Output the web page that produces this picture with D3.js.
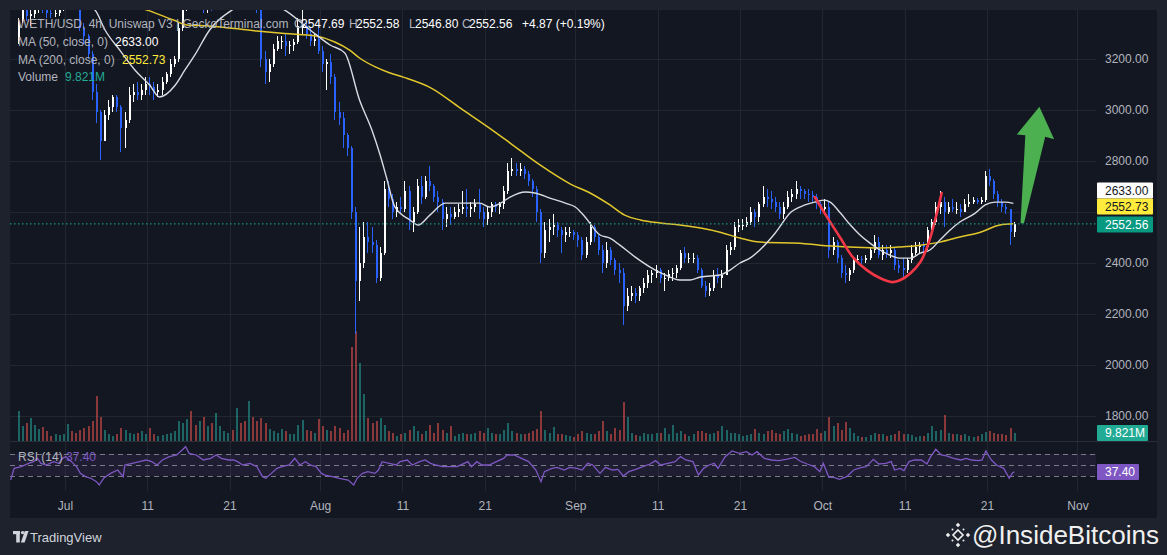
<!DOCTYPE html>
<html><head><meta charset="utf-8">
<script src="https://cdn.jsdelivr.net/npm/d3@7/dist/d3.min.js"></script>
<style>
html,body{margin:0;padding:0;background:#1e222d;overflow:hidden}
svg{display:block}
text{font-family:"Liberation Sans",Arial,sans-serif}
</style></head><body>
<svg id="chart" width="1167" height="555"></svg>
<script>
// ---------------- DATA (12h candles, WETH/USD) ----------------
const firstCandleTime = "06-25 00";
const candleHours = 12;
const firstOpen = 3270;
const highs = [
 3360,3420, 3410,3400, 3420,3480, 3460,3420, 3400,3405, 3420,3480,
 3520,3470, 3460,3430, 3340,3300, 3230,3100, 3000,3000, 3040,3060, 3060,3020, 2990,3090, 3100,3110, 3100,3130,
 3130,3110, 3100,3130, 3150,3200, 3210,3340, 3430,3500, 3510,3490, 3480,3460, 3440,3450, 3440,3540, 3530,3530,
 3530,3540, 3560,3500, 3530,3500, 3490,3400, 3230,3200, 3260,3290, 3290,3300, 3270,3280, 3360,3400, 3340,3320, 3300,3350,
 3250,3200, 3220,3140, 3030,2990, 2910,2860, 2620,2540, 2560,2560, 2540,2490, 2460,2720, 2720,2670, 2640,2660,
 2720,2700, 2620,2730, 2740,2740, 2780,2710, 2680,2650, 2620,2620, 2620,2630, 2680,2690, 2640,2650, 2690,2620,
 2620,2640, 2640,2640, 2700,2790, 2810,2790, 2790,2780, 2760,2730, 2700,2610, 2560,2570, 2590,2560, 2540,2540, 2540,2530,
 2520,2500, 2500,2560, 2550,2510, 2470,2480, 2460,2420, 2400,2380, 2300,2310, 2300,2310, 2340,2370, 2370,2390,
 2380,2360, 2370,2380, 2390,2450, 2460,2440, 2440,2430, 2380,2330, 2320,2370, 2380,2370, 2470,2480, 2560,2570,
 2570,2580, 2620,2610, 2640,2700, 2690,2680, 2660,2640, 2640,2680, 2690,2720, 2700,2690, 2690,2680, 2670,2640,
 2650,2640, 2500,2490, 2430,2390, 2380,2420, 2430,2425, 2430,2460, 2510,2500, 2470,2470, 2470,2460, 2410,2420,
 2420,2470, 2480,2480, 2480,2540, 2570,2640, 2680,2660, 2640,2650, 2640,2630, 2650,2670, 2660,2655, 2660,2760,
 2770,2730, 2680,2650, 2630,2610, 2560
];
const lows = [
 3260,3340, 3350,3330, 3360,3380, 3380,3360, 3360,3365, 3370,3390,
 3420,3410, 3400,3310, 3260,3200, 3040,2950, 2803,2880, 2960,2990, 2990,2835, 2850,2950, 3030,3040, 3040,3060,
 3060,3040, 3050,3060, 3100,3130, 3170,3190, 3310,3390, 3440,3410, 3420,3380, 3380,3390, 3400,3410, 3490,3490,
 3440,3460, 3460,3420, 3430,3400, 3380,3170, 3100,3110, 3170,3230, 3240,3210, 3220,3230, 3260,3300, 3280,3250, 3250,3220,
 3150,3080, 3100,2960, 2940,2850, 2820,2570, 2120,2250, 2380,2440, 2440,2320, 2330,2430, 2620,2570, 2580,2590,
 2600,2530, 2520,2590, 2630,2650, 2680,2640, 2600,2530, 2540,2550, 2570,2580, 2590,2580, 2580,2600, 2570,2540,
 2550,2580, 2600,2590, 2610,2670, 2740,2740, 2740,2730, 2700,2660, 2560,2400, 2420,2480, 2510,2500, 2440,2480, 2500,2490,
 2460,2410, 2420,2470, 2480,2430, 2360,2380, 2390,2350, 2320,2155, 2210,2250, 2240,2250, 2280,2300, 2320,2340,
 2320,2290, 2330,2330, 2340,2370, 2400,2400, 2400,2360, 2300,2265, 2270,2290, 2320,2300, 2350,2430, 2450,2520,
 2530,2540, 2550,2540, 2560,2620, 2620,2610, 2600,2570, 2570,2610, 2640,2650, 2650,2650, 2640,2640, 2610,2590,
 2590,2420, 2430,2400, 2340,2320, 2330,2360, 2400,2395, 2400,2410, 2440,2420, 2410,2420, 2420,2370, 2360,2340,
 2360,2400, 2430,2440, 2440,2450, 2510,2550, 2590,2540, 2590,2600, 2590,2580, 2600,2620, 2630,2630, 2630,2640,
 2700,2650, 2620,2600, 2590,2470, 2500
];
const closes = [
 3350,3400, 3370,3375, 3400,3450, 3400,3380, 3375,3380, 3400,3440,
 3460,3430, 3420,3320, 3290,3220, 3070,2990, 2880,2980, 3010,3050, 3010,2930, 2960,3060, 3070,3060, 3080,3100,
 3090,3070, 3080,3110, 3140,3180, 3200,3320, 3410,3480, 3460,3440, 3450,3400, 3420,3410, 3420,3510, 3510,3520,
 3480,3530, 3480,3440, 3480,3470, 3400,3200, 3150,3180, 3240,3270, 3270,3250, 3255,3265, 3330,3330, 3300,3270, 3280,3230,
 3180,3190, 3130,2990, 2970,2900, 2850,2600, 2330,2400, 2500,2480, 2470,2340, 2440,2690, 2650,2600, 2620,2610,
 2680,2560, 2600,2700, 2660,2720, 2700,2660, 2640,2570, 2590,2580, 2600,2610, 2620,2610, 2620,2630, 2600,2570,
 2600,2630, 2620,2630, 2680,2760, 2770,2760, 2770,2750, 2720,2690, 2600,2440, 2530,2540, 2550,2530, 2510,2520, 2520,2510,
 2490,2430, 2480,2540, 2500,2450, 2400,2450, 2410,2370, 2360,2230, 2270,2280, 2270,2300, 2320,2350, 2360,2370,
 2340,2340, 2355,2360, 2380,2440, 2420,2420, 2420,2370, 2310,2290, 2300,2350, 2340,2350, 2450,2460, 2540,2550,
 2550,2560, 2600,2580, 2630,2660, 2650,2640, 2620,2590, 2620,2660, 2670,2690, 2680,2670, 2665,2660, 2630,2610,
 2620,2450, 2480,2420, 2360,2350, 2370,2410, 2415,2410, 2420,2450, 2480,2430, 2450,2440, 2450,2390, 2380,2370,
 2410,2440, 2460,2470, 2460,2530, 2560,2620, 2640,2600, 2620,2610, 2610,2600, 2630,2640, 2645,2640, 2645,2740,
 2720,2670, 2640,2620, 2610,2520, 2552.56
];
const volumes = [ // millions
 37,18, 22,28, 20,15, 17,12, 6,8, 7,9,
 21,12, 10,14, 16,18, 25,55, 30,13, 8,6, 9,16, 14,10, 8,10, 12,9,
 16,8, 6,7, 8,10, 12,24, 22,27, 37,20, 24,30, 18,22, 34,18, 12,10,
 14,41, 22,25, 49,30, 25,28, 22,15, 12,10, 15,12, 9,8, 20,26, 14,12, 10,27,
 18,14, 12,18, 16,10, 14,115, 135,96, 58,28, 22,25, 28,20, 12,10, 6,8,
 10,14, 18,12, 9,12, 20,10, 22,14, 10,18, 6,8, 10,9, 8,10, 12,10,
 16,10, 8,9, 14,22, 12,10, 8,9, 10,12, 15,37, 14,10, 17,9, 8,7, 6,5,
 8,12, 10,9, 8,12, 25,12, 9,16, 14,48, 30,10, 7,6, 10,9, 8,10,
 10,16, 8,20, 10,12, 8,6, 9,12, 12,10, 8,10, 12,18, 14,10, 10,8,
 6,7, 8,15, 10,9, 12,14, 10,9, 12,15, 10,9, 6,7, 8,9, 15,10,
 12,30, 18,22, 14,23, 16,10, 6,5, 5,7, 10,9, 8,6, 7,9, 12,9,
 8,7, 5,6, 6,10, 18,12, 14,32, 10,8, 9,7, 8,6, 5,6, 8,11,
 12,10, 8,9, 7,16, 9.821
];
const ma50 = [
 ["06-25 00",3440],["06-28 00",3435],["07-01 00",3425],["07-03 00",3420],["07-04 16",3392],["07-05 21",3314],
 ["07-07 16",3235],["07-09 12",3157],["07-11 07",3098],["07-12 12",3051],["07-14 10",3098],["07-15 14",3157],
 ["07-16 19",3216],["07-18 14",3314],["07-21 07",3392],["07-24 17",3430],["07-27 17",3392],["07-30 19",3314],
 ["08-02 05",3255],["08-04 00",3224],["08-05 19",3039],["08-07 07",2921],["08-08 07",2823],["08-09 02",2733],
 ["08-10 02",2619],["08-11 22",2568],["08-12 22",2548],["08-14 08",2587],["08-16 05",2634],["08-18 00",2634],
 ["08-20 10",2634],["08-21 14",2619],["08-22 22",2634],["08-24 02",2658],["08-25 22",2678],["08-27 02",2674],
 ["08-28 22",2654],["08-30 19",2634],["09-01 00",2619],["09-02 05",2579],["09-04 00",2509],["09-05 05",2497],
 ["09-06 10",2469],["09-08 07",2422],["09-10 02",2383],["09-11 22",2352],["09-13 17",2332],["09-14 22",2332],
 ["09-16 05",2344],["09-18 14",2352],["09-19 19",2371],["09-21 00",2399],["09-22 05",2418],["09-23 10",2450],
 ["09-25 07",2517],["09-27 05",2599],["09-28 22",2627],["09-30 02",2638],["10-01 07",2646],["10-01 23",2638],
 ["10-03 05",2595],["10-04 10",2548],["10-05 14",2509],["10-06 19",2477],["10-08 00",2450],["10-09 05",2430],
 ["10-10 12",2418],["10-11 17",2418],["10-12 22",2438],["10-14 02",2450],["10-15 07",2489],["10-16 12",2528],
 ["10-17 17",2560],["10-19 14",2595],["10-20 19",2627],["10-22 00",2638],["10-23 05",2638],["10-24 05",2633.00]
];
const ma200 = [
 ["06-25 00",3560],["07-01 00",3500],["07-06 00",3440],["07-11 00",3392],["07-14 05",3353],["07-15 19",3334],
 ["07-18 12",3330],["07-24 07",3310],["07-27 17",3300],["07-31 12",3290],["08-02 19",3267],["08-04 14",3235],
 ["08-05 19",3204],["08-07 17",3169],["08-09 12",3145],["08-11 02",3129],["08-14 12",3086],["08-18 00",3008],
 ["08-21 22",2921],["08-24 02",2870],["08-27 17",2784],["08-31 10",2709],["09-02 19",2674],["09-05 05",2627],
 ["09-07 00",2587],["09-08 22",2568],["09-11 07",2556],["09-13 17",2548],["09-16 05",2536],["09-18 14",2520],
 ["09-21 00",2497],["09-23 10",2481],["09-28 07",2477],["09-30 17",2469],["10-04 10",2462],["10-08 00",2458],
 ["10-10 12",2462],["10-12 22",2469],["10-15 07",2481],["10-17 17",2501],["10-20 05",2520],["10-22 14",2548],
 ["10-24 05",2552.73]
];
const rsiPoints = [
 ["06-24 10",22.7],["06-24 20",43.9],["06-25 17",47],["06-26 14",53],["06-27 05",56.1],["06-27 16",62.1],["06-28 02",53],["06-28 18",50],["06-29 15",56.1],["06-30 06",53],["06-30 17",62.1],
 ["07-01 03",65.2],["07-01 19",56.1],["07-02 10",47],["07-02 21",34.8],["07-03 12",28.8],["07-04 04",25.8],["07-04 20",19.7],["07-05 04",13.6],["07-05 17",25.8],["07-06 13",34.8],["07-07 10",40.9],["07-08 02",28.8],["07-08 07",50],["07-09 04",53],["07-10 01",56.1],["07-10 21",59.1],["07-11 13",56.1],["07-12 05",50],["07-12 20",59.1],["07-13 17",65.2],["07-14 14",68.2],["07-15 06",77.3],["07-15 16",83.3],["07-16 02",71.2],["07-16 23",68.2],["07-17 20",59.1],["07-18 17",62.1],["07-19 09",68.2],["07-20 00",62.1],["07-20 21",59.1],["07-21 12",59.1],["07-21 23",56.1],["07-22 15",50],["07-23 12",53],["07-24 08",47],["07-25 00",28.8],["07-25 10",25.8],["07-26 02",34.8],["07-26 18",43.9],["07-27 09",47],["07-28 06",50],["07-28 22",62.1],["07-29 13",50],["07-30 05",56.1],["07-30 20",50],["07-31 12",47],
 ["08-01 04",34.8],["08-01 14",31.8],["08-02 11",28.8],["08-03 08",25.8],["08-04 10",22.7],["08-05 02",13.6],["08-05 12",25.8],["08-06 04",34.8],["08-06 19",37.9],["08-07 16",34.8],["08-08 02",40.9],["08-08 13",56.1],["08-09 10",53],["08-10 06",50],["08-10 17",56.1],["08-11 14",59.1],["08-12 05",50],["08-13 02",56.1],["08-13 18",59.1],["08-14 10",53],["08-15 01",50],["08-15 22",47],["08-16 19",47],["08-17 15",47],["08-18 12",53],["08-18 23",56.1],["08-19 09",47],["08-20 01",56.1],["08-20 16",50],["08-21 13",50],["08-22 10",56.1],["08-23 07",62.1],["08-23 17",68.2],["08-24 14",68.2],["08-25 11",62.1],["08-26 08",56.1],["08-27 05",40.9],["08-27 20",19.7],["08-28 06",37.9],["08-29 04",43.9],["08-29 19",45.8],["08-30 16",40.9],["08-31 07",45.8],
 ["09-01 05",43.9],["09-01 20",40.9],["09-02 12",53],["09-03 03",50],["09-04 00",34.8],["09-04 16",45.8],["09-05 12",40.9],["09-06 04",42.1],["09-06 20",30],["09-07 12",37.9],["09-08 08",42.1],["09-09 05",47],["09-10 02",51.8],["09-10 18",57.9],["09-11 09",50],["09-12 06",53],["09-13 03",56.1],["09-13 19",65.2],["09-14 10",59.1],["09-15 07",56.1],["09-15 23",31.8],["09-16 14",43.9],["09-17 06",50],["09-17 21",53],["09-18 08",43.9],["09-19 05",65.2],["09-20 01",75.5],["09-20 22",71.2],["09-21 19",74.2],["09-22 11",68.2],["09-23 02",74.2],["09-23 23",62.1],["09-24 20",59.1],["09-25 17",57.9],["09-26 14",60.3],["09-27 16",63.9],["09-28 07",57.3],["09-29 04",51.8],["09-30 01",47],["09-30 17",37.9],
 ["10-01 03",53],["10-01 19",27.6],["10-02 10",27.6],["10-03 02",23.9],["10-03 23",28.8],["10-04 20",40.9],["10-05 16",45.2],["10-06 08",47],["10-07 05",60.3],["10-07 21",51.8],["10-08 17",53],["10-09 09",56.1],["10-09 19",40.9],["10-10 11",43.9],["10-10 22",39.7],["10-11 13",56.1],["10-12 05",59.1],["10-13 01",59.1],["10-13 17",51.8],["10-14 04",65.2],["10-14 19",78.5],["10-15 11",68.2],["10-16 02",66.4],["10-16 23",62.1],["10-17 20",59.1],["10-18 12",62.1],["10-19 03",59.1],["10-20 00",57.9],["10-20 10",59.1],["10-20 21",75.5],["10-21 13",59.1],["10-22 04",50],["10-23 01",43.9],["10-23 17",25.8],["10-24 03",36.1],["10-24 08",37.4]
];
const redCurve = [
 ["09-30 02",2658],["10-01 14",2579],["10-03 05",2497],["10-04 17",2422],["10-06 10",2371],["10-08 00",2340],
 ["10-09 12",2324],["10-10 12",2332],["10-11 17",2359],["10-12 22",2403],["10-13 17",2458],["10-14 07",2517],
 ["10-14 22",2595],["10-15 12",2674]
];
const greenArrow = [
 ["10-25 02",2555],["10-25 16",2901],["10-24 15",2904],["10-27 09",3013],["10-29 04",2885],["10-28 02",2895],["10-25 12",2555]
];
const priceGridTicks = [1800,2000,2200,2400,2600,2800,3000,3200];
const priceLabelTicks = [1800,2000,2200,2400,2800,3000,3200]; // 2600 is hidden behind the price labels
const timeTicks = ["07-01","07-11","07-21","08-01","08-11","08-21","09-01","09-11","09-21","10-01","10-11","10-21","11-01"];
const timeTickLabels = ["Jul","11","21","Aug","11","21","Sep","11","21","Oct","11","21","Nov"];
const rsiLevels = [70,50,30];
const lastBar = [2547.69, 2552.58, 2546.80, 2552.56]; // O H L C
const lastChange = ["+4.87", "(+0.19%)"];
const ma50Last = 2633.00, ma200Last = 2552.73, volLast = "9.821M", rsiLast = 37.40;

// ---------------- LAYOUT ----------------
const L=10, R=1096, TOP=10, MAINB=441, RSIB=491, AXB=518, FR=1157;
const parse = d3.utcParse("%Y-%m-%d %H");
const T = s => parse("2024-" + s);
const HOUR = 3600e3;
const t0 = T(firstCandleTime);
const candles = closes.map((c,i)=>({
  t: new Date(+t0 + (i*candleHours + candleHours/2)*HOUR),
  o: i ? closes[i-1] : firstOpen, h: highs[i], l: lows[i], c, v: volumes[i]
}));

const x = d3.scaleUtc().domain([T("06-24 08"), T("11-03 06")]).range([L, R]);
const y = d3.scaleLinear().domain([1700, 3392.5]).range([MAINB, TOP]);
const vy = d3.scaleLinear().domain([0, 100]).range([MAINB, MAINB-81.5]);
const ry = d3.scaleLinear().domain([30, 70]).range([476, 454]);

const svg = d3.select("#chart");
svg.append("rect").attr("width",1167).attr("height",555).attr("fill","#1e222d");
svg.append("rect").attr("x",L).attr("y",TOP).attr("width",FR-L).attr("height",AXB-TOP).attr("fill","#131722");

const defs = svg.append("defs");
defs.append("clipPath").attr("id","mainClip").append("rect").attr("x",L).attr("y",TOP).attr("width",R-L).attr("height",MAINB-TOP);
defs.append("clipPath").attr("id","rsiClip").append("rect").attr("x",L).attr("y",MAINB+1).attr("width",R-L).attr("height",RSIB-MAINB-1);

// grid
const grid = svg.append("g").attr("stroke","#22262f").attr("stroke-width",1);
grid.selectAll("line.v").data(timeTicks).join("line")
  .attr("x1",d=>Math.round(x(T(d+" 00")))+0.5).attr("x2",d=>Math.round(x(T(d+" 00")))+0.5)
  .attr("y1",TOP).attr("y2",RSIB);
grid.selectAll("line.h").data(priceGridTicks).join("line")
  .attr("x1",L).attr("x2",R).attr("y1",d=>Math.round(y(d))+0.5).attr("y2",d=>Math.round(y(d))+0.5);

// pane separator
svg.append("line").attr("x1",L).attr("x2",FR).attr("y1",MAINB+0.5).attr("y2",MAINB+0.5).attr("stroke","#2a2e39");

const main = svg.append("g").attr("clip-path","url(#mainClip)");
const up = d => d.c >= d.o;

// volume
main.append("g").selectAll("rect").data(candles).join("rect")
  .attr("x",d=>Math.round(x(d.t))).attr("width",2)
  .attr("y",d=>vy(d.v)).attr("height",d=>MAINB-vy(d.v))
  .attr("fill",d=>up(d)?"rgba(38,166,154,0.55)":"rgba(239,83,80,0.55)")
  .attr("shape-rendering","crispEdges");

// candles
const cg = main.append("g").attr("shape-rendering","crispEdges");
cg.selectAll("line").data(candles).join("line")
  .attr("x1",d=>Math.round(x(d.t))+0.5).attr("x2",d=>Math.round(x(d.t))+0.5)
  .attr("y1",d=>y(d.h)).attr("y2",d=>y(d.l))
  .attr("stroke",d=>up(d)?"#ffffff":"#2962ff").attr("stroke-width",1);
cg.selectAll("rect").data(candles).join("rect")
  .attr("x",d=>Math.round(x(d.t))).attr("width",2)
  .attr("y",d=>Math.min(y(d.o),y(d.c)))
  .attr("height",d=>Math.max(1,Math.abs(y(d.o)-y(d.c))))
  .attr("fill",d=>up(d)?"#ffffff":"#2962ff");

// MAs
const maLine = d3.line().x(d=>x(T(d[0]))).y(d=>y(d[1])).curve(d3.curveMonotoneX);
main.append("path").attr("d",maLine(ma200)).attr("fill","none").attr("stroke","#e2c72c").attr("stroke-width",1.5);
main.append("path").attr("d",maLine(ma50)).attr("fill","none").attr("stroke","#d8dbe2").attr("stroke-width",1.4);

// annotations
main.append("path").attr("d",d3.line().x(d=>x(T(d[0]))).y(d=>y(d[1])).curve(d3.curveCatmullRom)(redCurve))
  .attr("fill","none").attr("stroke","#f23645").attr("stroke-width",2.6).attr("stroke-linecap","round");
main.append("path").attr("d",d3.line().x(d=>x(T(d[0]))).y(d=>y(d[1])).curve(d3.curveLinearClosed)(greenArrow))
  .attr("fill","#4caf50");

// last price line
svg.append("line").attr("x1",L).attr("x2",R).attr("y1",y(lastBar[3])).attr("y2",y(lastBar[3]))
  .attr("stroke","#22ab94").attr("stroke-width",1).attr("stroke-dasharray","1.5 2.5");

// RSI pane
svg.append("rect").attr("x",L).attr("width",R-L).attr("y",ry(70)).attr("height",ry(30)-ry(70)).attr("fill","rgba(126,87,194,0.1)");
svg.append("g").selectAll("line").data(rsiLevels).join("line")
  .attr("x1",L).attr("x2",R).attr("y1",d=>Math.round(ry(d))+0.5).attr("y2",d=>Math.round(ry(d))+0.5)
  .attr("stroke","#787b86").attr("stroke-dasharray","5 4");
svg.append("path").attr("clip-path","url(#rsiClip)")
  .attr("d",d3.line().x(d=>x(T(d[0]))).y(d=>ry(d[1]))(rsiPoints))
  .attr("fill","none").attr("stroke","#7e57c2").attr("stroke-width",1.3);

// price axis
const pa = svg.append("g").attr("transform",`translate(${R},0)`)
  .call(d3.axisRight(y).tickValues(priceLabelTicks).tickFormat(d3.format(".2f")).tickSize(0).tickPadding(9));
pa.select(".domain").remove();
pa.selectAll("text").attr("fill","#b2b5be").attr("font-size",12).attr("font-family","Liberation Sans, Arial, sans-serif");

// price scale labels
function box(yTop, h, w, bg, fg, txt){
  svg.append("rect").attr("x",1097).attr("y",yTop).attr("width",w).attr("height",h).attr("rx",1).attr("fill",bg);
  svg.append("text").attr("x",1105).attr("y",yTop+h/2).attr("dy","0.36em").attr("font-size",12).attr("fill",fg).text(txt);
}
box(182.5,16,56,"#ffffff","#131722",ma50Last.toFixed(2));
box(198.5,16,56,"#ffeb3b","#131722",ma200Last.toFixed(2));
box(y(lastBar[3])-7.5,16,56,"#089981","#ffffff",lastBar[3].toFixed(2));
box(vy(volumes[volumes.length-1])-8,16,51,"#22ab94","#ffffff",volLast);
box(ry(rsiLast)-8,16,42,"#7e57c2","#ffffff",rsiLast.toFixed(2));

// time axis
const ta = svg.append("g").attr("transform",`translate(0,${RSIB})`)
  .call(d3.axisBottom(x).tickValues(timeTicks.map(d=>T(d+" 00"))).tickFormat((d,i)=>timeTickLabels[i]).tickSize(0).tickPadding(10.5));
ta.select(".domain").remove();
ta.selectAll("text").attr("fill","#b2b5be").attr("font-size",12).attr("font-family","Liberation Sans, Arial, sans-serif");

// legend
const lg = svg.append("g").attr("font-size",12);
function tx(xp, yp, s, col){ lg.append("text").attr("x",xp).attr("y",yp).attr("fill",col).text(s); }
const G="#b2b5be", Wt="#ffffff";
tx(18,28,"WETH/USD, 4h, Uniswap V3 | GeckoTerminal.com",G);
const keys=["O","H","L","C"], kx=[294,349,409,462];
keys.forEach((k,i)=>{ tx(kx[i],28,k,G); tx(kx[i]+(k==="L"?6:7),28,lastBar[i].toFixed(2),Wt); });
tx(522,28,lastChange[0]+" "+lastChange[1],Wt);
tx(18,46,"MA (50, close, 0)",G); tx(115,46,ma50Last.toFixed(2),Wt);
tx(18,63.5,"MA (200, close, 0)",G); tx(122,63.5,ma200Last.toFixed(2),"#ffeb3b");
tx(18,80.5,"Volume",G); tx(65,80.5,volLast,"#22ab94");
tx(18,461,"RSI (14)",G); tx(66,461,rsiLast.toFixed(2),"#7e57c2");

// footer
const ft = svg.append("g").attr("fill","#d1d4dc");
ft.append("rect").attr("x",13).attr("y",531).attr("width",7).attr("height",3.2);
ft.append("rect").attr("x",16.2).attr("y",531).attr("width",3.6).attr("height",11.5);
ft.append("circle").attr("cx",22.6).attr("cy",532.6).attr("r",1.7);
ft.append("path").attr("d","M24.8,531 L28.6,531 L24.6,542.5 L20.9,542.5 Z");
ft.append("text").attr("x",30).attr("y",542).attr("font-size",13).text("TradingView");
const wm = svg.append("g").attr("fill","#f0f0f0");
const cxm=958, cym=535;
wm.append("path").attr("d",`M${cxm},${cym-5} L${cxm+5},${cym} L${cxm},${cym+5} L${cxm-5},${cym} Z`).attr("fill","none").attr("stroke","#f0f0f0").attr("stroke-width",1.6);
[[0,-10],[10,0],[0,10],[-10,0]].forEach(([dx,dy])=>{
  wm.append("path").attr("d",`M${cxm+dx},${cym+dy-2.2} L${cxm+dx+2.2},${cym+dy} L${cxm+dx},${cym+dy+2.2} L${cxm+dx-2.2},${cym+dy} Z`);
});
[[-5,-5],[5,-5],[5,5],[-5,5]].forEach(([dx,dy])=>{
  wm.append("circle").attr("cx",cxm+dx*1.1).attr("cy",cym+dy*1.1).attr("r",1);
});
wm.append("text").attr("x",972).attr("y",544).attr("font-size",25).attr("textLength",187).attr("lengthAdjust","spacingAndGlyphs").text("@InsideBitcoins");
</script>
</body></html>
